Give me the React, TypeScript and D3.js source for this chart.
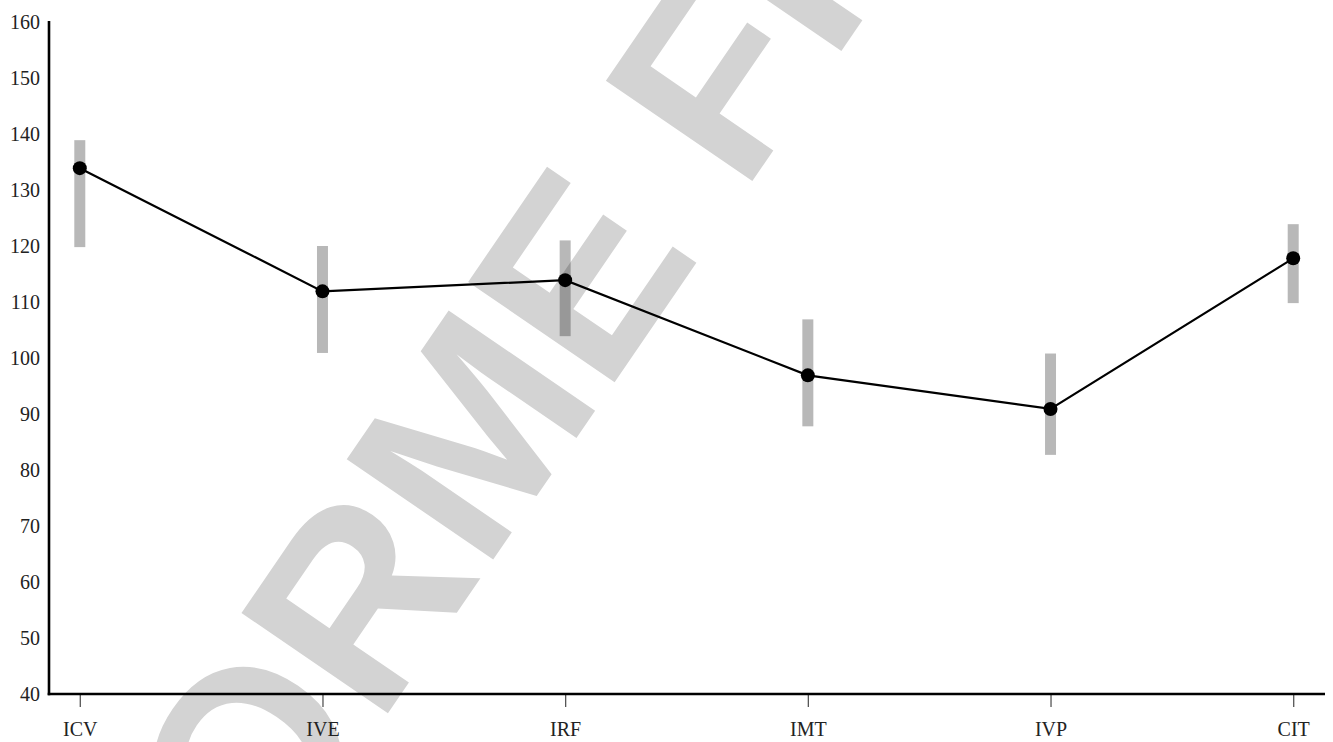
import { useRef, useEffect } from 'react'
import * as d3 from 'd3'

const categories = ['ICV', 'IVE', 'IRF', 'IMT', 'IVP', 'CIT']
const means = [133.9, 111.9, 113.9, 96.9, 90.9, 117.8]
const upper = [138.9, 120.0, 121.0, 106.9, 100.8, 123.9]
const lower = [119.8, 100.9, 103.9, 87.8, 82.7, 109.8]
const yTicks = [40, 50, 60, 70, 80, 90, 100, 110, 120, 130, 140, 150, 160]
const watermark = 'INFORME FINAL'

export default function App() {
  const svgRef = useRef<SVGSVGElement>(null)

  useEffect(() => {
    if (!svgRef.current) return
    const svg = d3.select(svgRef.current)
    svg.selectAll('*').remove()

    const axisX = 49
    const x = d3.scalePoint<string>().domain(categories).range([48, 1325]).padding(0.131)
    const y = d3.scaleLinear().domain([40, 160]).range([694, 22])

    // Watermark (behind everything)
    svg
      .append('text')
      .attr('transform', 'translate(30,1236) rotate(-55.6)')
      .attr('font-family', '"Liberation Sans", Arial, sans-serif')
      .attr('font-weight', 'bold')
      .attr('font-size', 258)
      .attr('fill', '#d3d3d3')
      .text(watermark)

    // Y axis labels (no ticks)
    svg
      .append('g')
      .selectAll('text')
      .data(yTicks)
      .join('text')
      .attr('x', 40)
      .attr('y', (d) => y(d))
      .attr('dy', '0.35em')
      .attr('text-anchor', 'end')
      .attr('font-family', '"Liberation Serif", "Times New Roman", serif')
      .attr('font-size', 20)
      .attr('fill', '#222')
      .text((d) => d)

    // X axis ticks + labels
    const xAxis = svg
      .append('g')
      .attr('transform', `translate(0,${y(40)})`)
      .call(d3.axisBottom(x).tickSize(13).tickPadding(15))
    xAxis.select('.domain').remove()
    xAxis.selectAll('line').attr('stroke', '#555').attr('stroke-width', 1.3)
    xAxis
      .selectAll('text')
      .attr('font-family', '"Liberation Serif", "Times New Roman", serif')
      .attr('font-size', 20)
      .attr('fill', '#222')

    // Axis lines
    svg
      .append('line')
      .attr('x1', axisX)
      .attr('x2', axisX)
      .attr('y1', y(160) - 1)
      .attr('y2', y(40) + 1.3)
      .attr('stroke', '#000')
      .attr('stroke-width', 2.6)
    svg
      .append('line')
      .attr('x1', axisX - 1.3)
      .attr('x2', 1325)
      .attr('y1', y(40))
      .attr('y2', y(40))
      .attr('stroke', '#000')
      .attr('stroke-width', 2.6)

    const idx = d3.range(categories.length)

    // Error bars
    svg
      .append('g')
      .selectAll('rect')
      .data(idx)
      .join('rect')
      .attr('x', (i) => (x(categories[i]) as number) - 5.5)
      .attr('y', (i) => y(upper[i]))
      .attr('width', 11)
      .attr('height', (i) => y(lower[i]) - y(upper[i]))
      .attr('fill', '#000')
      .attr('fill-opacity', 0.28)

    // Mean line
    const line = d3
      .line<number>()
      .x((i) => x(categories[i]) as number)
      .y((i) => y(means[i]))
    svg
      .append('path')
      .datum(idx)
      .attr('fill', 'none')
      .attr('stroke', '#000')
      .attr('stroke-width', 2.2)
      .attr('d', line)

    // Points
    svg
      .append('g')
      .selectAll('circle')
      .data(idx)
      .join('circle')
      .attr('cx', (i) => x(categories[i]) as number)
      .attr('cy', (i) => y(means[i]))
      .attr('r', 7)
      .attr('fill', '#000')
  }, [])

  return (
    <svg
      ref={svgRef}
      width={1333}
      height={742}
      style={{ position: 'absolute', left: 0, top: 0, background: '#fff' }}
    />
  )
}
